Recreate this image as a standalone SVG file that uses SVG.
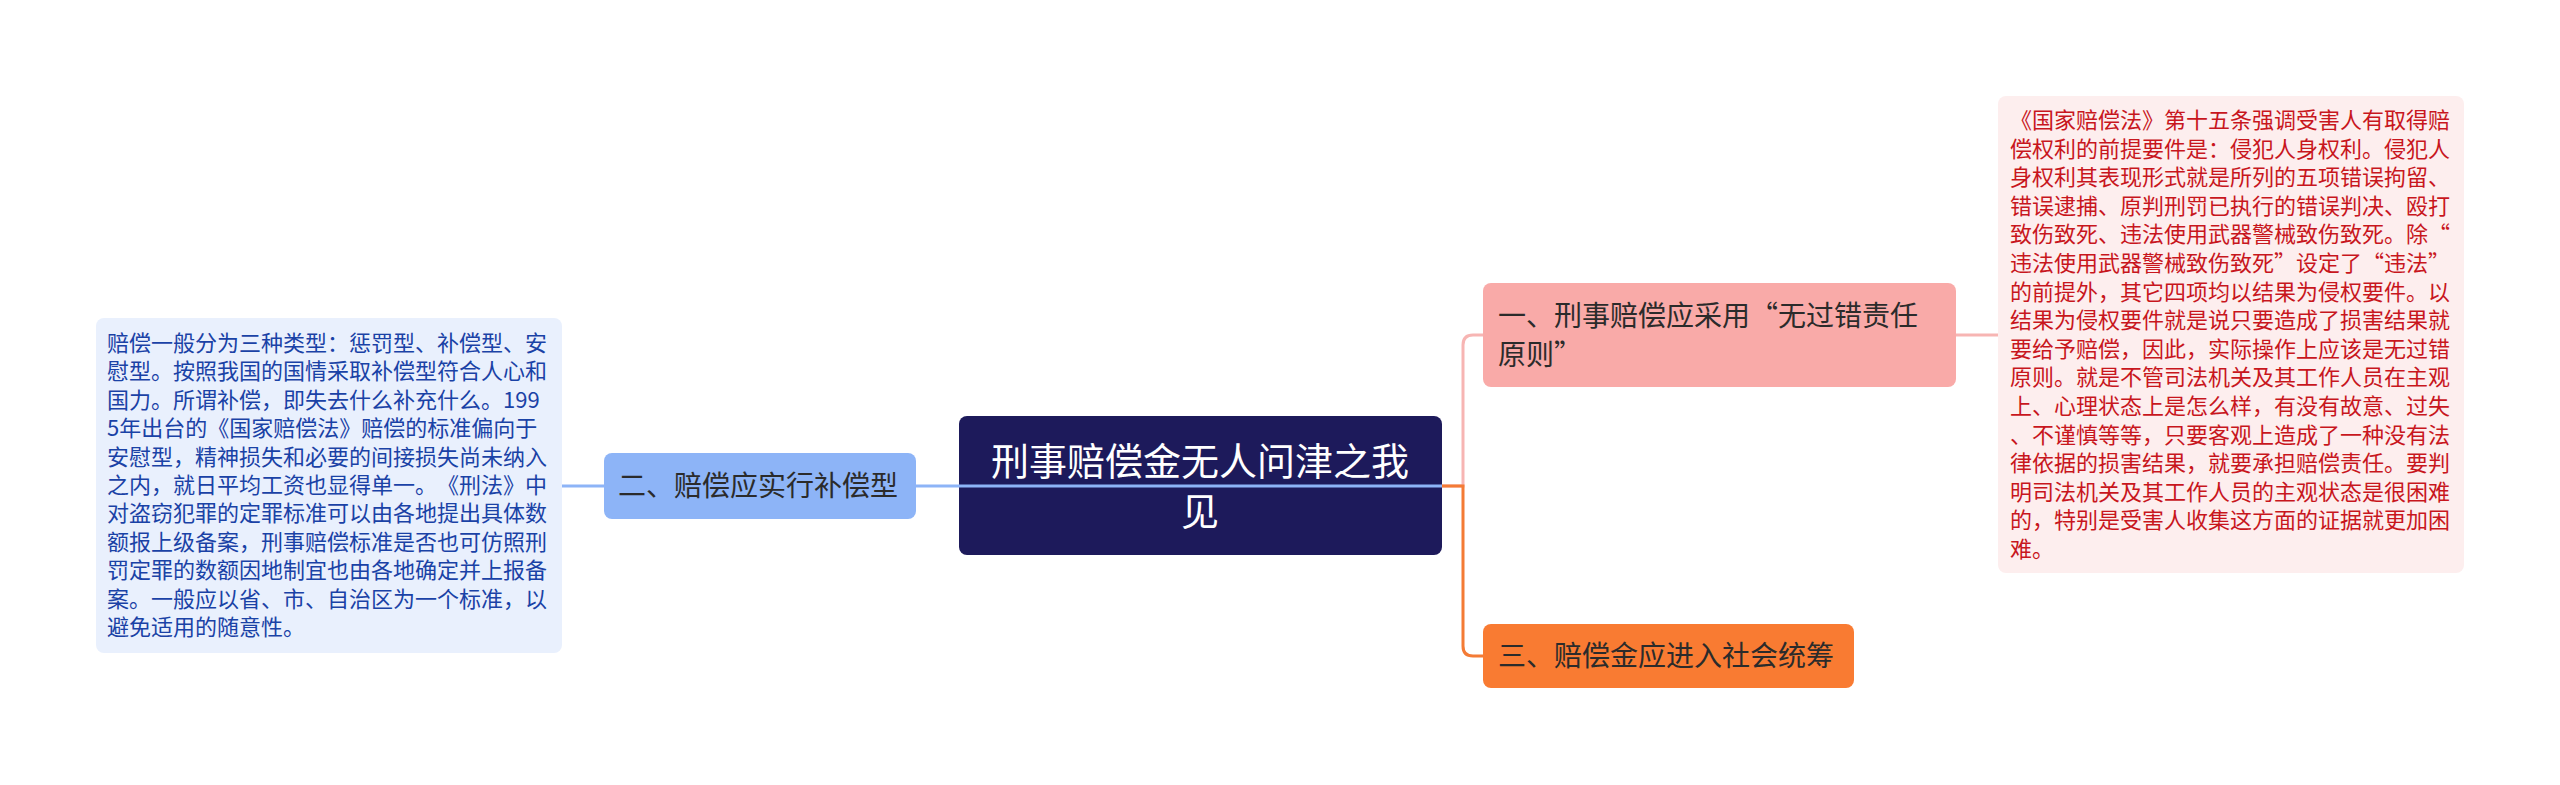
<svg xmlns="http://www.w3.org/2000/svg" width="2560" height="785" viewBox="0 0 2560 785">
<style>
.t{font-family:"Noto Sans CJK SC","Noto Sans",sans-serif;text-spacing-trim:space-all;}
.node{font-size:28px;fill:#2b2b2b;}
.leaf{font-size:22px;}
.blue{fill:#1a42a6;}
.red{fill:#c8161d;}
.conn{fill:none;stroke-width:3;}
</style>
<rect width="2560" height="785" fill="#ffffff"/>
<g id="connectors">
<path class="conn" stroke="#8db4f7" d="M604 486 H562"/>
<path class="conn" stroke="#f7b5b3" d="M1442 486 H1463 V345 Q1463 335 1473 335 H1483"/>
<path class="conn" stroke="#f7b5b3" d="M1956 335 H1998"/>
<path class="conn" stroke="#f47b35" d="M1442 486 H1463 V646 Q1463 656 1473 656 H1483"/>
</g>
<g id="center">
<rect x="959" y="416" width="483" height="139" rx="8" fill="#1d1a5b"/>
<path class="conn" stroke="#8db4f7" d="M916 486 H1442"/>
<text class="t" x="1200" y="475" font-size="38" fill="#ffffff" text-anchor="middle">刑事赔偿金无人问津之我</text>
<text class="t" x="1200" y="525" font-size="38" fill="#ffffff" text-anchor="middle">见</text>
</g>
<g id="n2">
<rect x="604" y="453" width="312" height="66" rx="8" fill="#8db4f7"/>
<text class="t node" x="618" y="496">二、赔偿应实行补偿型</text>
</g>
<g id="n2leaf">
<rect x="96" y="318" width="466" height="335" rx="8" fill="#e9f0fd"/>
<text class="t leaf blue" x="107" y="351">
<tspan x="107" y="351">赔偿一般分为三种类型：惩罚型、补偿型、安</tspan>
<tspan x="107" y="379.4">慰型。按照我国的国情采取补偿型符合人心和</tspan>
<tspan x="107" y="407.8">国力。所谓补偿，即失去什么补充什么。199</tspan>
<tspan x="107" y="436.2">5年出台的《国家赔偿法》赔偿的标准偏向于</tspan>
<tspan x="107" y="464.6">安慰型，精神损失和必要的间接损失尚未纳入</tspan>
<tspan x="107" y="493">之内，就日平均工资也显得单一。《刑法》中</tspan>
<tspan x="107" y="521.4">对盗窃犯罪的定罪标准可以由各地提出具体数</tspan>
<tspan x="107" y="549.8">额报上级备案，刑事赔偿标准是否也可仿照刑</tspan>
<tspan x="107" y="578.2">罚定罪的数额因地制宜也由各地确定并上报备</tspan>
<tspan x="107" y="606.6">案。一般应以省、市、自治区为一个标准，以</tspan>
<tspan x="107" y="635">避免适用的随意性。</tspan>
</text>
</g>
<g id="n1">
<rect x="1483" y="283" width="473" height="104" rx="8" fill="#f9aaa8"/>
<text class="t node" x="1498" y="326">一、刑事赔偿应采用“无过错责任</text>
<text class="t node" x="1498" y="365">原则”</text>
</g>
<g id="n1leaf">
<rect x="1998" y="96" width="466" height="477" rx="8" fill="#fdeeee"/>
<text class="t leaf red">
<tspan x="2010" y="128">《国家赔偿法》第十五条强调受害人有取得赔</tspan>
<tspan x="2010" y="156.6">偿权利的前提要件是：侵犯人身权利。侵犯人</tspan>
<tspan x="2010" y="185.2">身权利其表现形式就是所列的五项错误拘留、</tspan>
<tspan x="2010" y="213.8">错误逮捕、原判刑罚已执行的错误判决、殴打</tspan>
<tspan x="2010" y="242.4">致伤致死、违法使用武器警械致伤致死。除“</tspan>
<tspan x="2010" y="271">违法使用武器警械致伤致死”设定了“违法”</tspan>
<tspan x="2010" y="299.6">的前提外，其它四项均以结果为侵权要件。以</tspan>
<tspan x="2010" y="328.2">结果为侵权要件就是说只要造成了损害结果就</tspan>
<tspan x="2010" y="356.8">要给予赔偿，因此，实际操作上应该是无过错</tspan>
<tspan x="2010" y="385.4">原则。就是不管司法机关及其工作人员在主观</tspan>
<tspan x="2010" y="414">上、心理状态上是怎么样，有没有故意、过失</tspan>
<tspan x="2010" y="442.6">、不谨慎等等，只要客观上造成了一种没有法</tspan>
<tspan x="2010" y="471.2">律依据的损害结果，就要承担赔偿责任。要判</tspan>
<tspan x="2010" y="499.8">明司法机关及其工作人员的主观状态是很困难</tspan>
<tspan x="2010" y="528.4">的，特别是受害人收集这方面的证据就更加困</tspan>
<tspan x="2010" y="557">难。</tspan>
</text>
</g>
<g id="n3">
<rect x="1483" y="624" width="371" height="64" rx="8" fill="#f97b32"/>
<text class="t node" x="1498" y="666">三、赔偿金应进入社会统筹</text>
</g>
</svg>
